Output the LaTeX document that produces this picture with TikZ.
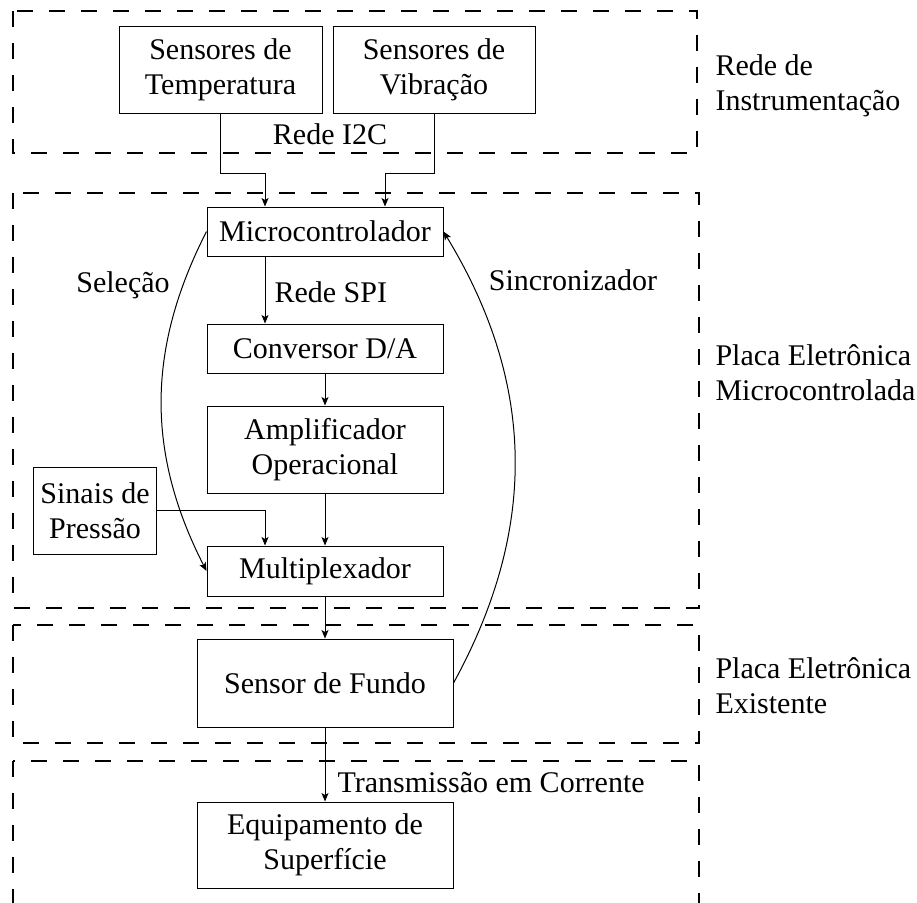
\documentclass[tikz,border=0pt]{standalone}
\usepackage{fontspec}
\setmainfont{Liberation Serif}
\usetikzlibrary{arrows.meta}

\begin{document}
\begin{tikzpicture}[
  x=0.4pt, y=-0.4pt,
  every node/.style={font=\fontsize{12}{14}\selectfont},
  blockbox/.style={draw, line width=0.4pt, align=center, inner sep=2pt},
  zone/.style={draw, line width=0.8pt, dash pattern=on 6.4pt off 6.4pt},
  conn/.style={line width=0.4pt, -{Stealth[length=3.4pt,width=2.8pt,inset=0.8pt]}},
  tag/.style={inner sep=0pt, anchor=base},
  zonetag/.style={inner sep=0pt, anchor=west, align=left},
]
\useasboundingbox (0,0) rectangle (917,902);
\clip (0,0) rectangle (917,902);

% dashed zones
\draw[zone] (13,11) rectangle (697,153);
\draw[zone] (13,193) rectangle (699,608);
\draw[zone] (13,625) rectangle (699,743);
\draw[zone] (13,761) rectangle (699,940);

% zone captions
\node[zonetag] (capRede) at (715,86) {Rede de\\Instrumentação};
\node[zonetag] (capMicro) at (715,373) {Placa Eletrônica\\Microcontrolada};
\node[zonetag] (capExist) at (715,686) {Placa Eletrônica\\Existente};

% blocks
\node[blockbox, minimum width=81.2pt, minimum height=34.8pt] (temp) at (220.5,69.5) {Sensores de\\Temperatura};
\node[blockbox, minimum width=80.8pt, minimum height=34.8pt] (vib) at (434,69.5) {Sensores de\\Vibração};
\node[blockbox, minimum width=94.4pt, minimum height=19.6pt] (micro) at (325,231.5) {Microcontrolador};
\node[blockbox, minimum width=94.4pt, minimum height=19.6pt] (conv) at (325,348.5) {Conversor D/A};
\node[blockbox, minimum width=94.4pt, minimum height=34.8pt] (amp) at (325,449.5) {Amplificador\\Operacional};
\node[blockbox, minimum width=94.4pt, minimum height=20pt] (mux) at (325,571) {Multiplexador};
\node[blockbox, minimum width=48.8pt, minimum height=34.8pt] (sinais) at (95,510.5) {Sinais de\\Pressão};
\node[blockbox, minimum width=102.4pt, minimum height=35.2pt] (fundo) at (325,683) {Sensor de Fundo};
\node[blockbox, minimum width=102.4pt, minimum height=34.4pt] (equip) at (325,845) {Equipamento de\\Superfície};

% bus junctions
\coordinate (jL) at (265,173);
\coordinate (jR) at (385,173);

% connector labels
\node[tag] (lblI2C) at (330,144) {Rede I2C};
\node[tag, anchor=base west] (lblSPI) at (274,302) {Rede SPI};
\node[tag] (lblSel) at (123,292) {Seleção};
\node[tag] (lblSync) at (573,290) {Sincronizador};
\node[tag, anchor=base west] (lblTx) at (337,792) {Transmissão em Corrente};

% connectors
\draw[conn] (temp.south) |- (jL) -- (jL |- micro.north);
\draw[conn] (vib.south) |- (jR) -- (jR |- micro.north);
\draw[conn] (micro.south -| jL) -- (conv.north -| jL);
\draw[conn] (conv.south) -- (amp.north);
\draw[conn] (amp.south) -- (mux.north);
\draw[conn] (sinais.east) -| (mux.north -| jL);
\draw[conn] (mux.south) -- (fundo.north);
\draw[conn] (fundo.south) -- (equip.north);
\draw[conn] (micro.west) to[bend right=27] (mux.west);
\draw[conn] (fundo.east) to[bend right=30] (micro.east);
\end{tikzpicture}
\end{document}
